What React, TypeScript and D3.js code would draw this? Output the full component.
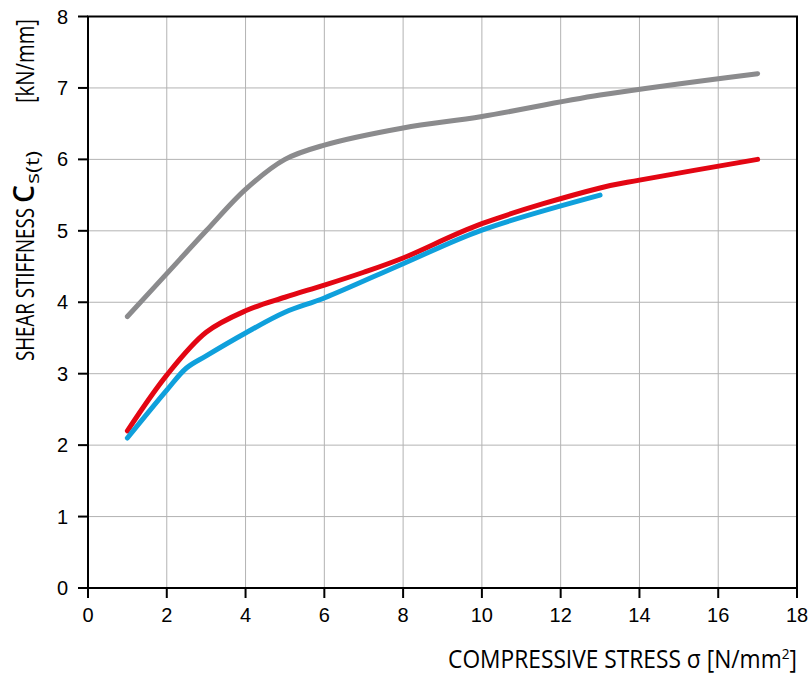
import React, { useLayoutEffect, useRef, useState } from "react";
import * as d3 from "d3";

const xTicks = [0, 2, 4, 6, 8, 10, 12, 14, 16, 18];
const yTicks = [0, 1, 2, 3, 4, 5, 6, 7, 8];

const grayX = [1, 2, 3, 4, 5, 6, 8, 10, 13, 17];
const grayY = [3.8, 4.4, 5.0, 5.58, 6.0, 6.2, 6.44, 6.6, 6.9, 7.2];

const redX = [1, 2, 3, 4, 5, 6, 7, 8, 10, 13, 14, 17];
const redY = [2.2, 2.98, 3.58, 3.88, 4.07, 4.24, 4.42, 4.62, 5.1, 5.6, 5.71, 6.0];

const blueX = [1, 2, 2.5, 3, 4, 5, 6, 8, 10, 13];
const blueY = [2.1, 2.77, 3.08, 3.25, 3.57, 3.86, 4.06, 4.54, 5.01, 5.5];

const series = [
  { name: "gray", xs: grayX, ys: grayY, color: "#8b8b8d" },
  { name: "red", xs: redX, ys: redY, color: "#e30613" },
  { name: "blue", xs: blueX, ys: blueY, color: "#0fa0dc" },
];

export default function App() {
  const W = 812, H = 677;
  const x = d3.scaleLinear().domain([0, 18]).range([88, 797]);
  const y = d3.scaleLinear().domain([0, 8]).range([588, 16.5]);
  const line = d3
    .line<[number, number]>()
    .x((d) => x(d[0]))
    .y((d) => y(d[1]))
    .curve(d3.curveCatmullRom.alpha(0.5));
  const font = "'Liberation Sans', Arial, sans-serif";
  const titleFont = "'Open Sans', 'Noto Sans', sans-serif";

  const xTitleRef = useRef<SVGTextElement>(null);
  const [sx, setSx] = useState(0.85);
  useLayoutEffect(() => {
    if (xTitleRef.current) {
      const w = xTitleRef.current.getBBox().width;
      if (w > 0) setSx(349 / w);
    }
  }, []);

  return (
    <svg width={W} height={H} style={{ position: "absolute", left: 0, top: 0, background: "#fff" }}>
      {xTicks.slice(1, -1).map((t) => (
        <line key={"gx" + t} x1={x(t)} x2={x(t)} y1={y(8)} y2={y(0)} stroke="#b3b3b3" strokeWidth={1} />
      ))}
      {yTicks.slice(1, -1).map((t) => (
        <line key={"gy" + t} x1={x(0)} x2={x(18)} y1={y(t)} y2={y(t)} stroke="#b3b3b3" strokeWidth={1} />
      ))}
      {series.map((s) => (
        <path
          key={s.name}
          d={line(s.xs.map((v, i) => [v, s.ys[i]] as [number, number])) || ""}
          fill="none"
          stroke={s.color}
          strokeWidth={5}
          strokeLinecap="round"
          strokeLinejoin="round"
        />
      ))}
      <rect x={x(0)} y={y(8)} width={x(18) - x(0)} height={y(0) - y(8)} fill="none" stroke="#000" strokeWidth={2} />
      {xTicks.map((t) => (
        <g key={"xt" + t}>
          <line x1={x(t)} x2={x(t)} y1={y(0)} y2={y(0) + 10} stroke="#000" strokeWidth={2} />
          <text x={x(t)} y={622} textAnchor="middle" fontFamily={font} fontSize={20} fill="#000">
            {t}
          </text>
        </g>
      ))}
      {yTicks.map((t) => (
        <g key={"yt" + t}>
          <line x1={x(0) - 10} x2={x(0)} y1={y(t)} y2={y(t)} stroke="#000" strokeWidth={2} />
          <text x={68} y={y(t) + 7} textAnchor="end" fontFamily={font} fontSize={20} fill="#000">
            {t}
          </text>
        </g>
      ))}
      <g transform={`translate(797,668) scale(${sx},1)`} fontFamily={titleFont} fill="#000">
        <text ref={xTitleRef} x={0} y={0} fontSize={25} textAnchor="end">
          COMPRESSIVE STRESS σ [N/mm<tspan dy={-9} fontSize={15}>2</tspan>
          <tspan dy={9}>]</tspan>
        </text>
      </g>
      <g transform="translate(34,0) rotate(-90)" fontFamily={titleFont} fill="#000">
        <text x={-361} y={0} fontSize={26} textLength={153} lengthAdjust="spacingAndGlyphs">
          SHEAR STIFFNESS
        </text>
        <text x={-203} y={0} fontSize={29} fontWeight={600} textLength={18} lengthAdjust="spacingAndGlyphs">C</text>
        <text x={-184} y={5} fontSize={18} textLength={33} lengthAdjust="spacingAndGlyphs">s(t)</text>
        <text x={-103} y={0} fontSize={25} textLength={84} lengthAdjust="spacingAndGlyphs">[kN/mm]</text>
      </g>
    </svg>
  );
}
